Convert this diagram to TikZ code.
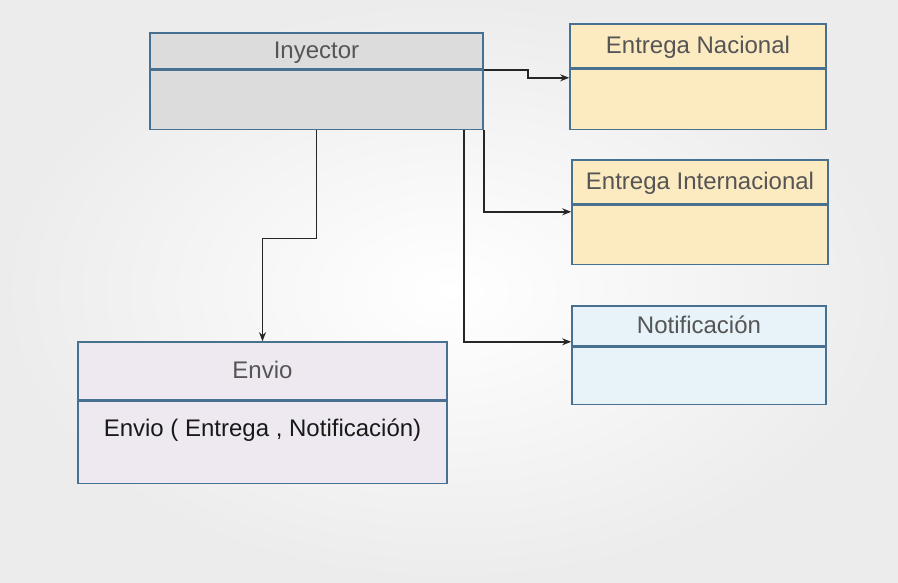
\documentclass[tikz,border=0pt]{standalone}
\usepackage{fontspec}
\setmainfont{Liberation Sans}
\usepackage{xcolor}
\usetikzlibrary{positioning,arrows.meta}

\definecolor{bgcol}{RGB}{236,236,236}
\definecolor{edgecol}{RGB}{72,112,145}
\definecolor{grisbox}{RGB}{220,220,220}
\definecolor{amarbox}{RGB}{252,234,192}
\definecolor{azulbox}{RGB}{231,243,248}
\definecolor{lilabox}{RGB}{238,233,241}
\definecolor{titcol}{RGB}{85,85,85}

\begin{document}
\begin{tikzpicture}[x=1pt,y=-1pt,
    hdr/.style={draw=edgecol, line width=1.6pt, inner sep=0pt, text=titcol,
      font=\fontsize{24}{28}\selectfont, text height=17pt, text depth=3pt},
    body/.style={draw=edgecol, line width=1.6pt, inner sep=0pt},
    conn/.style={draw=black!85, line width=1.4pt, -{Stealth[length=9pt,width=7pt]}}]
      % Background
      \shade[inner color=white, outer color=bgcol] (0,0) rectangle (898,582);
      \useasboundingbox (0,0) rectangle (898,582);
      % Inyector
      \node[hdr, fill=grisbox, minimum width=333pt, minimum height=36pt] (inyh) at (316.5,51) {Inyector};
      \node[body, fill=grisbox, minimum width=333pt, minimum height=59pt, below=0pt of inyh] (inyb) {};
      % Entrega Nacional
      \node[hdr, fill=amarbox, minimum width=256pt, minimum height=44pt] (nach) at (698,46) {Entrega Nacional};
      \node[body, fill=amarbox, minimum width=256pt, minimum height=60pt, below=0pt of nach] (nacb) {};
      % Entrega Internacional
      \node[hdr, fill=amarbox, minimum width=256pt, minimum height=44pt] (inth) at (700,182) {Entrega Internacional};
      \node[body, fill=amarbox, minimum width=256pt, minimum height=59pt, below=0pt of inth] (intb) {};
      % Notificacion
      \node[hdr, fill=azulbox, minimum width=254pt, minimum height=40pt] (noth) at (699,326) {Notificación};
      \node[body, fill=azulbox, minimum width=254pt, minimum height=57pt, below=0pt of noth] (notb) {};
      % Envio
      \node[hdr, fill=lilabox, minimum width=369pt, minimum height=58pt] (envh) at (262.5,371) {Envio};
      \node[body, fill=lilabox, minimum width=369pt, minimum height=82pt, below=0pt of envh] (envb) {};
      \node[text=black!90, font=\fontsize{24}{28}\selectfont] (envtxt) at (262.5,430) {Envio ( Entrega , Notificación)};
      % Connectors
      \draw[conn] (inyb.north east) -- ++(44,0) |- ([yshift=-9pt]nacb.north west);
      \draw[conn] (inyb.south east) |- ([yshift=-7pt]intb.north west);
      \draw[conn] ([xshift=-20pt]inyb.south east) |- ([yshift=5pt]noth.south west);
      \draw[conn] (inyb.south) -- ++(0,108) -| (envh.north);
    \end{tikzpicture}
\end{document}
